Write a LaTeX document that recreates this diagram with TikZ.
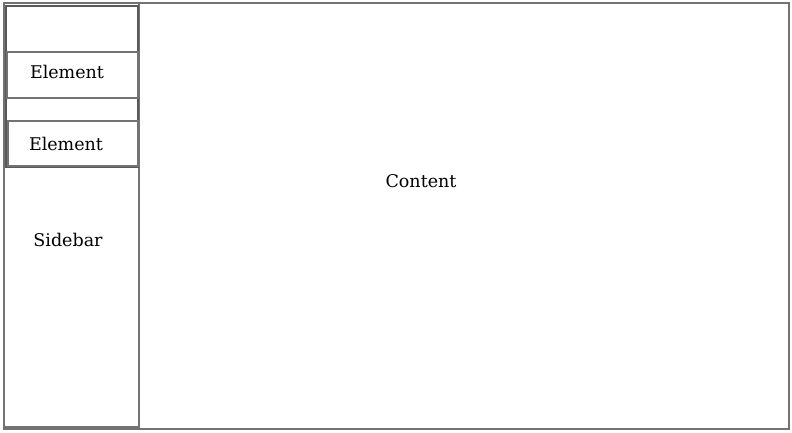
\documentclass[tikz,border=0pt]{standalone}
\usepackage{fontspec}
\setmainfont{DejaVu Serif}
\begin{document}
\begin{tikzpicture}[x=1bp,y=-1bp,
  box/.style={draw=black!55,line width=1.1bp},
  lbl/.style={font=\fontsize{17.5bp}{20bp}\selectfont,text=black}]
\useasboundingbox (0,0) rectangle (792,432);
\draw[box] (4,3) rectangle (789,429);
\node[lbl] (content) at (421,181) {Content};
\draw[box] (4,3) rectangle (139,427);
\node[lbl] (sidebar) at (68,240) {Sidebar};
\draw[box,draw=black!65] (6,6) rectangle (138,167);
\draw[box] (7,52) rectangle (138,98);
\node[lbl] (e1) at (67,72) {Element};
\draw[box] (8,121) rectangle (138,166);
\node[lbl] (e2) at (66,144) {Element};
\end{tikzpicture}
\end{document}
